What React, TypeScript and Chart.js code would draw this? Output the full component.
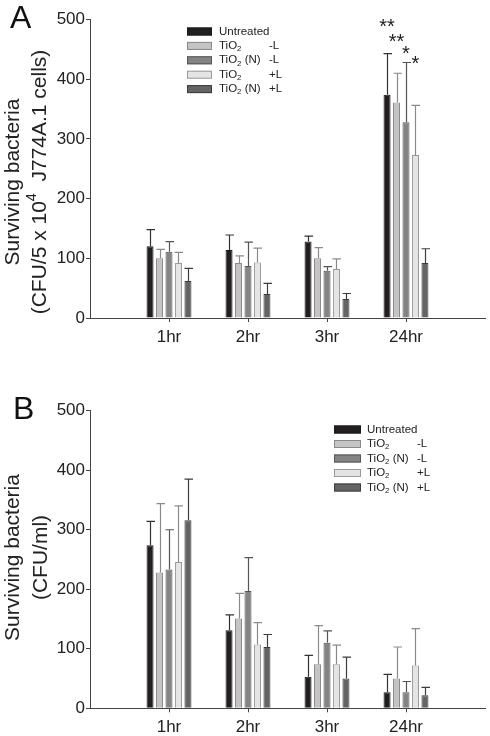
import React, { useEffect, useRef } from 'react';
import { Chart, registerables } from 'chart.js';

Chart.register(...registerables);

// ---------- data ----------
const categories = ['', '1hr', '2hr', '3hr', '24hr', ''];
const seriesBase = ['Untreated', 'TiO2', 'TiO2 (N)', 'TiO2', 'TiO2 (N)'];
const seriesLight = ['', '-L', '-L', '+L', '+L'];
const yTicks = [0, 100, 200, 300, 400, 500];

// Panel A (CFU / 5 x 10^4 J774A.1 cells): means and SD per time point (1hr, 2hr, 3hr, 24hr)
const aUntreated = [120, 114, 128, 374];
const aUntreatedSD = [28, 25, 9, 69];
const aTiO2Dark = [100, 92, 100, 361];
const aTiO2DarkSD = [15, 12, 18, 49];
const aTiO2NDark = [111, 87, 79, 328];
const aTiO2NDarkSD = [17, 40, 7, 100];
const aTiO2Light = [92, 93, 82, 273];
const aTiO2LightSD = [18, 24, 17, 83];
const aTiO2NLight = [62, 40, 32, 92];
const aTiO2NLightSD = [21, 18, 9, 24];
const aSignificance = ['**', '**', '*', '*', ''];
const aSignificanceY = [496, 471, 451, 433, 0];

// Panel B (CFU/ml)
const bUntreated = [274, 131, 53, 27];
const bUntreatedSD = [40, 26, 36, 30];
const bTiO2Dark = [228, 151, 74, 50];
const bTiO2DarkSD = [116, 42, 65, 53];
const bTiO2NDark = [233, 197, 110, 27];
const bTiO2NDarkSD = [67, 56, 20, 18];
const bTiO2Light = [246, 107, 74, 72];
const bTiO2LightSD = [94, 37, 32, 62];
const bTiO2NLight = [316, 103, 50, 22];
const bTiO2NLightSD = [69, 21, 36, 13];

// ---------- styles ----------
const FONT = '"Liberation Sans", Arial, Helvetica, sans-serif';
const fills = ['#231f20', '#c4c4c4', '#848484', '#e4e4e4', '#646464'];
const borders = ['#1a1a1a', '#8a8a8a', '#555555', '#9a9a9a', '#3c3c3c'];
const errColors = ['#333333', '#8a8a8a', '#555555', '#8a8a8a', '#3c3c3c'];
const TEXT = '#222222';
const AXIS = '#444444';

type Run = { t: string; sup?: boolean; sub?: boolean };

function runsFor(label: string): Run[] {
  const out: Run[] = [];
  const idx = label.indexOf('TiO2');
  if (idx < 0) return [{ t: label }];
  out.push({ t: 'TiO' });
  out.push({ t: '2', sub: true });
  const rest = label.slice(idx + 4);
  if (rest) out.push({ t: rest });
  return out;
}

function drawRuns(ctx: CanvasRenderingContext2D, runs: Run[], x: number, y: number, size: number, align: 'left' | 'center') {
  const widths = runs.map((r) => {
    ctx.font = `${r.sup || r.sub ? size * 0.68 : size}px ${FONT}`;
    return ctx.measureText(r.t).width;
  });
  const total = widths.reduce((a, b) => a + b, 0);
  let cx = align === 'center' ? x - total / 2 : x;
  runs.forEach((r, i) => {
    ctx.font = `${r.sup || r.sub ? size * 0.68 : size}px ${FONT}`;
    const dy = r.sup ? -size * 0.4 : r.sub ? size * 0.28 : 0;
    ctx.fillText(r.t, cx, y + dy);
    cx += widths[i];
  });
}

type PanelCfg = {
  letter: string;
  letterX: number;
  letterBaseline: number;
  title1: string;
  title2: Run[];
  titleX1: number;
  titleX2: number;
  titleCY: number;
  means: number[][];
  sds: number[][];
  padTop: number;
  xHeight: number;
  legendX: number;
  legendY: number;
  legendStep: number;
  legendBoxW: number;
  legendTextX: number;
  legendColX: number;
  sig?: string[];
  sigY?: number[];
  sigCat?: number;
};

function makeChart(canvas: HTMLCanvasElement, cfg: PanelCfg) {
  const datasets = cfg.means.map((m, i) => ({
    label: seriesBase[i] + (seriesLight[i] ? ' ' + seriesLight[i] : ''),
    data: [null, ...m, null],
    sd: [null, ...cfg.sds[i], null],
    backgroundColor: fills[i],
    borderColor: borders[i],
    borderWidth: 1,
    categoryPercentage: 0.6,
    barPercentage: 0.74,
  }));

  const decor = {
    id: 'decor',
    afterDatasetsDraw(chart: any) {
      const ctx: CanvasRenderingContext2D = chart.ctx;
      const ys = chart.scales.y;
      ctx.save();
      chart.data.datasets.forEach((ds: any, di: number) => {
        const meta = chart.getDatasetMeta(di);
        meta.data.forEach((el: any, i: number) => {
          const v = ds.data[i];
          const sd = ds.sd[i];
          if (v == null || sd == null) return;
          const top = ys.getPixelForValue(v + sd);
          const x = Math.round(el.x) + 0.5;
          ctx.strokeStyle = errColors[di];
          ctx.lineWidth = 1.2;
          ctx.beginPath();
          ctx.moveTo(x, el.y);
          ctx.lineTo(x, top);
          ctx.moveTo(x - 4, top);
          ctx.lineTo(x + 4.5, top);
          ctx.stroke();
        });
      });
      // significance marks
      if (cfg.sig && cfg.sigY && cfg.sigCat != null) {
        ctx.fillStyle = TEXT;
        ctx.font = `20px ${FONT}`;
        ctx.textAlign = 'center';
        ctx.textBaseline = 'alphabetic';
        cfg.sig.forEach((s, di) => {
          if (!s) return;
          const el = chart.getDatasetMeta(di).data[cfg.sigCat as number];
          const y = ys.getPixelForValue(cfg.sigY![di]);
          ctx.fillText(s, el.x, y + 11);
        });
      }
      ctx.restore();
    },
    afterDraw(chart: any) {
      const ctx: CanvasRenderingContext2D = chart.ctx;
      ctx.save();
      // panel letter
      ctx.fillStyle = '#111';
      ctx.font = `32px ${FONT}`;
      ctx.textAlign = 'left';
      ctx.textBaseline = 'alphabetic';
      ctx.fillText(cfg.letter, cfg.letterX, cfg.letterBaseline);
      // y axis title (rotated)
      ctx.fillStyle = TEXT;
      ctx.textBaseline = 'middle';
      ctx.save();
      ctx.translate(cfg.titleX1, cfg.titleCY);
      ctx.rotate(-Math.PI / 2);
      drawRuns(ctx, [{ t: cfg.title1 }], 0, 0, 21, 'center');
      ctx.restore();
      ctx.save();
      ctx.translate(cfg.titleX2, cfg.titleCY);
      ctx.rotate(-Math.PI / 2);
      drawRuns(ctx, cfg.title2, 0, 0, 21, 'center');
      ctx.restore();
      // legend
      ctx.textBaseline = 'middle';
      chart.data.datasets.forEach((ds: any, i: number) => {
        const cy = cfg.legendY + i * cfg.legendStep;
        ctx.fillStyle = fills[i];
        ctx.strokeStyle = borders[i];
        ctx.lineWidth = 1;
        ctx.fillRect(cfg.legendX, cy - 4, cfg.legendBoxW, 8);
        ctx.strokeRect(cfg.legendX + 0.5, cy - 3.5, cfg.legendBoxW - 1, 7);
        ctx.fillStyle = TEXT;
        drawRuns(ctx, runsFor(seriesBase[i]), cfg.legendTextX, cy, 11.5, 'left');
        if (seriesLight[i]) {
          ctx.font = `11.5px ${FONT}`;
          ctx.fillText(seriesLight[i], cfg.legendColX, cy);
        }
      });
      ctx.restore();
    },
  };

  return new Chart(canvas, {
    type: 'bar',
    data: { labels: categories, datasets: datasets as any },
    options: {
      responsive: false,
      animation: false,
      devicePixelRatio: 1,
      layout: { padding: { top: cfg.padTop, right: 3, left: 0, bottom: 0 } },
      plugins: { legend: { display: false }, tooltip: { enabled: false }, title: { display: false } },
      scales: {
        x: {
          type: 'category',
          offset: false,
          grid: {
            offset: false,
            drawOnChartArea: false,
            tickLength: 4,
            tickColor: (c: any) => (categories[c.index] ? AXIS : 'rgba(0,0,0,0)'),
          },
          border: { color: AXIS, width: 1 },
          ticks: {
            autoSkip: false,
            maxRotation: 0,
            padding: 5,
            color: TEXT,
            font: { family: FONT, size: 17 },
          },
          afterFit: (s: any) => {
            s.height = cfg.xHeight;
          },
        },
        y: {
          min: 0,
          max: 500,
          afterBuildTicks: (s: any) => {
            s.ticks = yTicks.map((v) => ({ value: v }));
          },
          grid: { drawOnChartArea: false, tickLength: 4, tickColor: AXIS },
          border: { color: AXIS, width: 1 },
          ticks: { padding: 1, color: TEXT, font: { family: FONT, size: 17 } },
          afterFit: (s: any) => {
            s.width = 90;
          },
        },
      },
    },
    plugins: [decor],
  });
}

const panelA: PanelCfg = {
  letter: 'A',
  letterX: 10,
  letterBaseline: 28,
  title1: 'Surviving bacteria',
  title2: [{ t: '(CFU/5 x 10' }, { t: '4', sup: true }, { t: '  J774A.1 cells)' }],
  titleX1: 13,
  titleX2: 40,
  titleCY: 182,
  means: [aUntreated, aTiO2Dark, aTiO2NDark, aTiO2Light, aTiO2NLight],
  sds: [aUntreatedSD, aTiO2DarkSD, aTiO2NDarkSD, aTiO2LightSD, aTiO2NLightSD],
  padTop: 19.5,
  xHeight: 50,
  legendX: 187,
  legendY: 31.5,
  legendStep: 14.4,
  legendBoxW: 25,
  legendTextX: 219,
  legendColX: 269,
  sig: aSignificance,
  sigY: aSignificanceY,
  sigCat: 4,
};

const panelB: PanelCfg = {
  letter: 'B',
  letterX: 13,
  letterBaseline: 51,
  title1: 'Surviving bacteria',
  title2: [{ t: '(CFU/ml)' }],
  titleX1: 13,
  titleX2: 41,
  titleCY: 189.5,
  means: [bUntreated, bTiO2Dark, bTiO2NDark, bTiO2Light, bTiO2NLight],
  sds: [bUntreatedSD, bTiO2DarkSD, bTiO2NDarkSD, bTiO2LightSD, bTiO2NLightSD],
  padTop: 42.7,
  xHeight: 27.7,
  legendX: 334,
  legendY: 61.5,
  legendStep: 14.5,
  legendBoxW: 27,
  legendTextX: 367,
  legendColX: 417,
};

function Panel({ cfg, top }: { cfg: PanelCfg; top: number }) {
  const ref = useRef<HTMLCanvasElement>(null);
  useEffect(() => {
    if (!ref.current) return;
    const chart = makeChart(ref.current, cfg);
    return () => chart.destroy();
  }, [cfg]);
  return (
    <canvas
      ref={ref}
      width={490}
      height={368}
      style={{ position: 'absolute', left: 0, top, width: 490, height: 368, display: 'block' }}
    />
  );
}

export default function App() {
  return (
    <div style={{ position: 'fixed', left: 0, top: 0, width: 490, height: 736, background: '#fff' }}>
      <Panel cfg={panelA} top={0} />
      <Panel cfg={panelB} top={368} />
    </div>
  );
}
